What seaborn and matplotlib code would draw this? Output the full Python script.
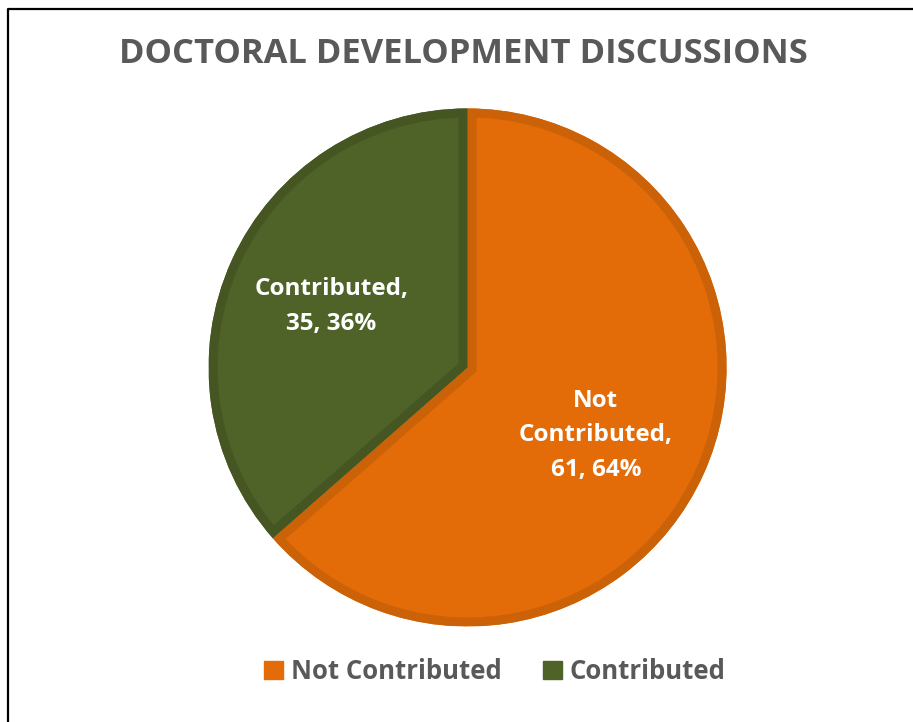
import matplotlib.pyplot as plt
import seaborn as sns
from matplotlib.patches import Wedge, Patch
from matplotlib.lines import Line2D

# data
categories = ['Not Contributed', 'Contributed']
counts = [61, 35]
colors = ['#E36C09', '#4F6228']
edge_colors = ['#CC6208', '#455622']

sns.set_theme(style='white')
plt.rcParams['font.family'] = ['Open Sans', 'DejaVu Sans']

fig = plt.figure(figsize=(9.13, 7.22), dpi=100)
ax = fig.add_axes([0.2284, 0.1323, 0.5674, 0.7175])

total = sum(counts)
wedges, _ = ax.pie(counts, colors=colors, startangle=90, counterclock=False,
                   radius=1.0, wedgeprops={'linewidth': 0})
ax.set_aspect('equal')
ax.set_xlim(-1, 1)
ax.set_ylim(-1, 1)

# darker inner border on each slice, clipped to the slice itself
for w, ec in zip(wedges, edge_colors):
    rim = Wedge(w.center, w.r, w.theta1, w.theta2, facecolor='none',
                edgecolor=ec, linewidth=13, joinstyle='miter',
                transform=ax.transData)
    clip = Wedge(w.center, w.r, w.theta1, w.theta2, transform=ax.transData)
    ax.add_patch(rim)
    rim.set_clip_path(clip)

# data labels
pcts = [round(c / total * 100) for c in counts]
ax.text(0.495, -0.262, f'Not\nContributed,\n{counts[0]}, {pcts[0]}%',
        ha='center', va='center', color='white', fontsize=17.5,
        fontweight='bold', linespacing=1.6)
ax.text(-0.525, 0.234, f'Contributed,\n{counts[1]}, {pcts[1]}%',
        ha='center', va='center', color='white', fontsize=17.5,
        fontweight='bold', linespacing=1.6)

fig.text(0.507, 0.925, 'DOCTORAL DEVELOPMENT DISCUSSIONS', ha='center',
         va='center', fontsize=24.8, fontweight='bold', color='#595959')

handles = [Patch(facecolor=c, edgecolor=c, label=l) for c, l in zip(colors, categories)]
leg = fig.legend(handles=handles, loc='center', bbox_to_anchor=(0.542, 0.07),
                 ncol=2, frameon=False, handlelength=0.75, handleheight=0.75,
                 handletextpad=0.3, columnspacing=1.6,
                 prop={'weight': 'bold', 'size': 18.5})
for t in leg.get_texts():
    t.set_color('#595959')

# outer frame: only the left and top edges show in the picture
fig.add_artist(Line2D([8 / 913, 8 / 913, 1.0], [0.0, 1 - 9 / 722, 1 - 9 / 722],
                      transform=fig.transFigure, color='black', linewidth=1.6))

fig.savefig('out.png', dpi=100)
